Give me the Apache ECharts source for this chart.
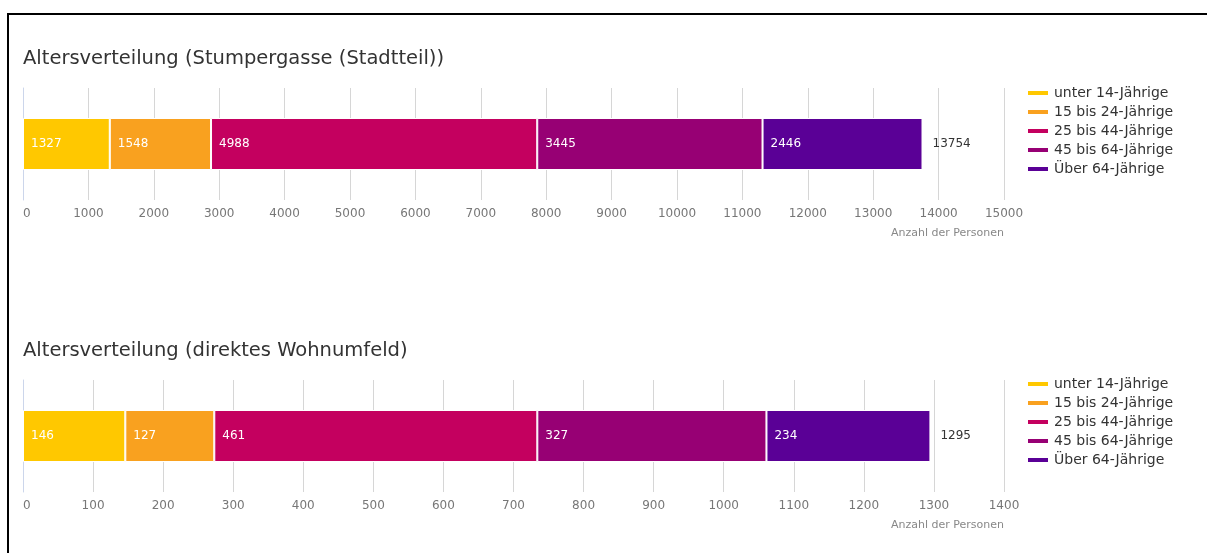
<!DOCTYPE html>
<html>
<head>
<meta charset="utf-8">
<title>Altersverteilung</title>
<script src="https://cdn.jsdelivr.net/npm/echarts@6/dist/echarts.min.js"></script>
<style>
    html, body { margin: 0; padding: 0; background: #fff; }
    #canvas { width: 1207px; height: 553px; }
    .frame {
        position: absolute; left: 7px; top: 13px; width: 1200px; height: 540px;
        border-top: 2px solid #000; border-left: 2px solid #000; pointer-events: none;
    }
</style>
</head>
<body>
<div id="canvas"></div>
<div class="frame"></div>
<script>
    // Daten
    var altersgruppen = ['unter 14-Jährige', '15 bis 24-Jährige', '25 bis 44-Jährige', '45 bis 64-Jährige', 'Über 64-Jährige'];
    var farben = ['#ffc800', '#f9a11f', '#c4005f', '#970074', '#5a0096'];
    var stadtteil = [1327, 1548, 4988, 3445, 2446];
    var wohnumfeld = [146, 127, 461, 327, 234];
    var titel = ['Altersverteilung (Stumpergasse (Stadtteil))', 'Altersverteilung (direktes Wohnumfeld)'];
    var achsenMax = [15000, 1400];
    var achsenSchritt = [1000, 100];

    var schrift = 'DejaVu Sans';

    function summe(arr) {
        var s = 0;
        for (var i = 0; i < arr.length; i++) { s += arr[i]; }
        return s;
    }

    var werte = [stadtteil, wohnumfeld];
    var gridTop = [88, 380];
    var legendTop = [81, 372];

    var series = [];
    var grids = [], xAxes = [], yAxes = [], legends = [], titles = [];

    for (var g = 0; g < 2; g++) {
        grids.push({ left: 23, right: 203, top: gridTop[g], height: 112 });
        titles.push({
            text: titel[g], left: 18, top: gridTop[g] - 44,
            textStyle: { fontFamily: schrift, fontSize: 19.5, fontWeight: 'normal', color: '#333' }
        });
        xAxes.push({
            type: 'value', gridIndex: g, min: 0, max: achsenMax[g], interval: achsenSchritt[g],
            name: 'Anzahl der Personen', nameLocation: 'end', nameGap: 0,
            nameTextStyle: { fontFamily: schrift, fontSize: 11, color: '#888', align: 'right', verticalAlign: 'top', padding: [28, 0, 0, 0] },
            axisLine: { show: false }, axisTick: { show: false },
            axisLabel: { fontFamily: schrift, fontSize: 12, color: '#777', margin: 8, alignMinLabel: 'left',
                formatter: function (v) { return String(v); } },
            splitLine: { lineStyle: { color: '#d6d6d6' } }
        });
        yAxes.push({
            type: 'category', gridIndex: g, data: [''],
            axisLine: { show: true, lineStyle: { color: '#ccd6eb' } },
            axisTick: { show: false }, axisLabel: { show: false }
        });
        legends.push({
            data: altersgruppen, orient: 'vertical', left: 1021, top: legendTop[g],
            icon: 'rect', itemWidth: 22, itemHeight: 6, itemGap: 5,
            textStyle: { fontFamily: schrift, fontSize: 14, color: '#333', lineHeight: 14 }
        });
        for (var i = 0; i < altersgruppen.length; i++) {
            series.push({
                name: altersgruppen[i], type: 'bar', stack: 'gesamt' + g,
                xAxisIndex: g, yAxisIndex: g, barWidth: 52,
                itemStyle: { color: farben[i], borderColor: '#fff', borderWidth: 1 },
                label: { show: true, position: 'insideLeft', distance: 8, color: '#fff', fontFamily: schrift, fontSize: 12 },
                data: [werte[g][i]]
            });
        }
        // Summe rechts neben dem Balken
        (function (total) {
            series.push({
                name: 'summe' + g, type: 'bar', stack: 'gesamt' + g,
                xAxisIndex: g, yAxisIndex: g, barWidth: 52,
                itemStyle: { color: 'transparent' },
                label: { show: true, position: 'right', distance: 10, color: '#333', fontFamily: schrift, fontSize: 12,
                    formatter: function () { return total; } },
                data: [0]
            });
        })(summe(werte[g]));
    }

    var myChart = echarts.init(document.getElementById('canvas'));
    var option = {
        animation: false,
        title: titles,
        legend: legends,
        grid: grids,
        xAxis: xAxes,
        yAxis: yAxes,
        series: series
    };
    myChart.setOption(option);
</script>
</body>
</html>
